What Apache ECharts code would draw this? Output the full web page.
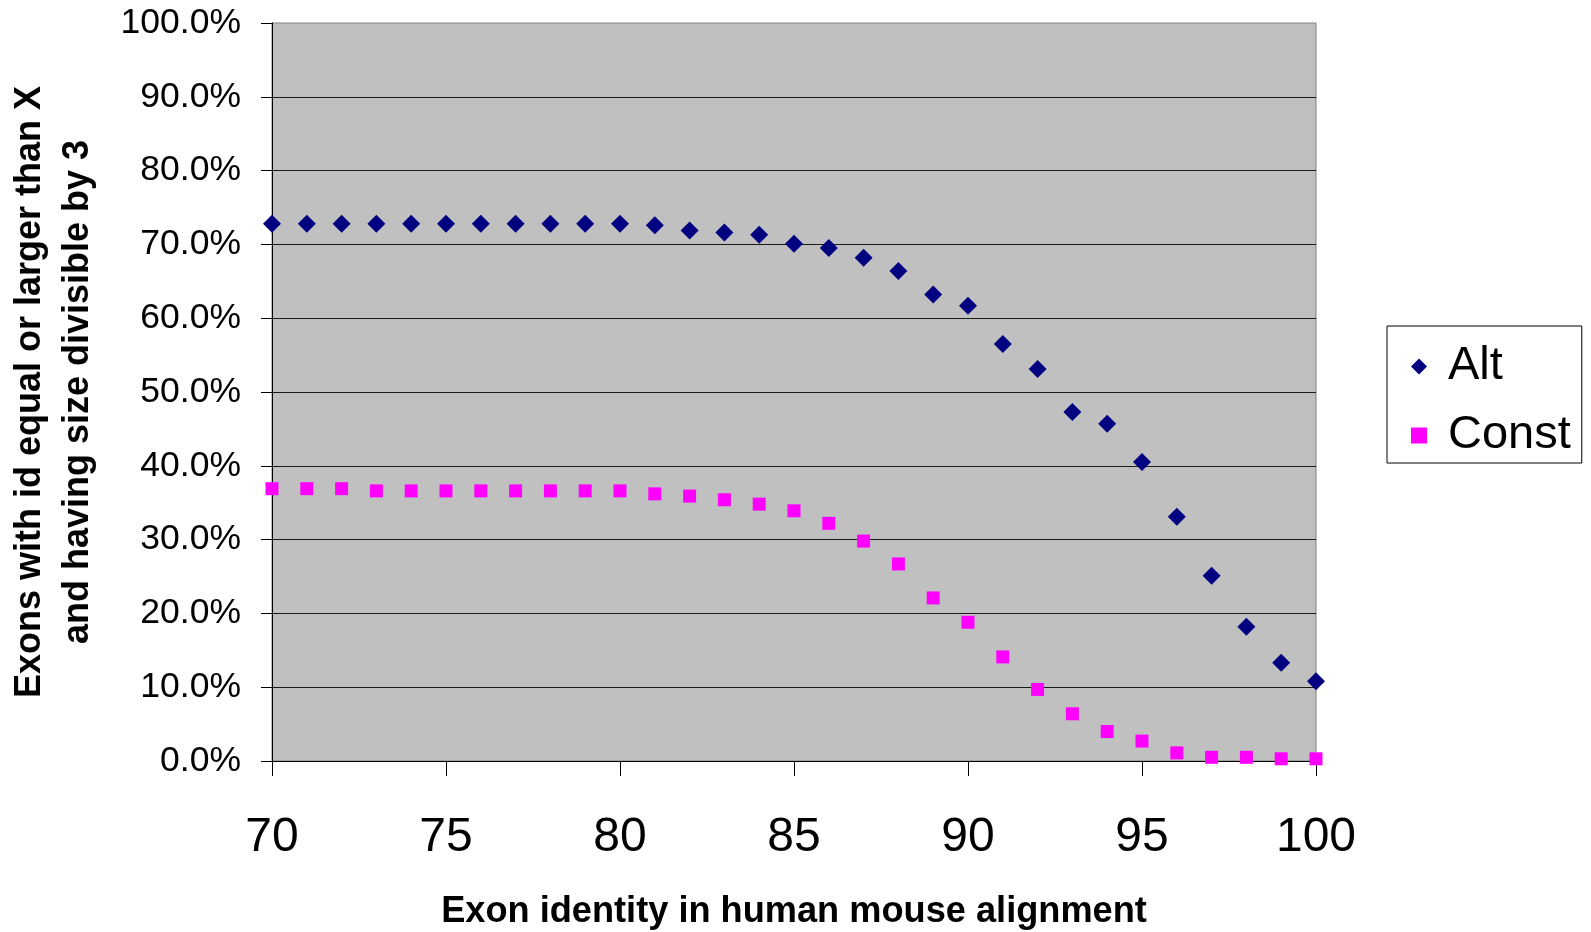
<!DOCTYPE html>
<html>
<head>
<meta charset="utf-8">
<script src="https://cdn.jsdelivr.net/npm/echarts@6/dist/echarts.min.js"></script>
<style>
html,body{margin:0;padding:0;background:#fff;}
#chart{width:1591px;height:932px;}
</style>
</head>
<body>
<div id="chart"></div>
<script>
const identity = [70,71,72,73,74,75,76,77,78,79,80,81,82,83,84,85,86,87,88,89,90,91,92,93,94,95,96,97,98,99,100];
const altValues = [72.8,72.8,72.8,72.8,72.8,72.8,72.8,72.8,72.8,72.8,72.8,72.6,71.9,71.6,71.3,70.1,69.5,68.2,66.4,63.2,61.7,56.5,53.1,47.3,45.7,40.5,33.1,25.1,18.2,13.3,10.8];
const constValues = [36.9,36.9,36.9,36.6,36.6,36.6,36.6,36.6,36.6,36.6,36.6,36.2,35.9,35.4,34.8,33.9,32.2,29.8,26.7,22.1,18.8,14.1,9.7,6.4,4.0,2.7,1.1,0.5,0.5,0.3,0.3];
const seriesNames = ['Alt','Const'];
const xTitle = 'Exon identity in human mouse alignment';
const yTitle = 'Exons with id equal or larger than X\nand having size divisible by 3';

const FONT = '"Liberation Sans", Arial, sans-serif';
const chart = echarts.init(document.getElementById('chart'));
chart.setOption({
  animation: false,
  backgroundColor: '#ffffff',
  grid: {
    left: 272, top: 23, width: 1044, height: 738,
    show: true, backgroundColor: '#c0c0c0', borderColor: '#808080', borderWidth: 1,
    containLabel: false,
    outerBoundsMode: 'none'
  },
  legend: {
    orient: 'vertical',
    left: 1387, top: 326,
    padding: [17, 11, 4, 24],
    itemGap: 22,
    itemWidth: 16, itemHeight: 16,
    backgroundColor: '#ffffff',
    borderColor: '#000000', borderWidth: 1,
    textStyle: { fontFamily: FONT, fontSize: 47, color: '#000', padding: [0,0,0,16] },
    data: [
      { name: seriesNames[0], icon: 'diamond' },
      { name: seriesNames[1], icon: 'rect' }
    ]
  },
  xAxis: {
    type: 'value', min: 70, max: 100, interval: 5,
    name: xTitle, nameLocation: 'middle', nameGap: 133,
    nameTextStyle: { fontFamily: FONT, fontSize: 36.2, fontWeight: 'bold', color: '#000' },
    axisLine: { show: true, onZero: false, lineStyle: { color: '#000', width: 1 } },
    axisTick: { show: true, inside: false, length: 15, lineStyle: { color: '#000' } },
    axisLabel: { fontFamily: FONT, fontSize: 48, color: '#000', margin: 53 },
    splitLine: { show: false }
  },
  yAxis: {
    type: 'value', min: 0, max: 100, interval: 10,
    name: yTitle, nameLocation: 'middle', nameGap: 170, nameRotate: 90,
    nameTextStyle: { fontFamily: FONT, fontSize: 36, fontWeight: 'bold', color: '#000', lineHeight: 48 },
    axisLine: { show: true, lineStyle: { color: '#000', width: 1 } },
    axisTick: { show: true, inside: false, length: 11, lineStyle: { color: '#000' } },
    axisLabel: { fontFamily: FONT, fontSize: 35.5, color: '#000', margin: 31,
      formatter: v => v.toFixed(1) + '%' },
    splitLine: { show: true, showMaxLine: false, lineStyle: { color: '#1a1a1a', width: 1 } }
  },
  series: [
    {
      name: seriesNames[0], type: 'scatter', symbol: 'diamond', symbolSize: 18,
      itemStyle: { color: '#000080', opacity: 1 },
      data: identity.map((x, i) => [x, altValues[i]])
    },
    {
      name: seriesNames[1], type: 'scatter', symbol: 'rect', symbolSize: 13,
      itemStyle: { color: '#ff00ff', opacity: 1 },
      data: identity.map((x, i) => [x, constValues[i]])
    }
  ]
});
</script>
</body>
</html>
